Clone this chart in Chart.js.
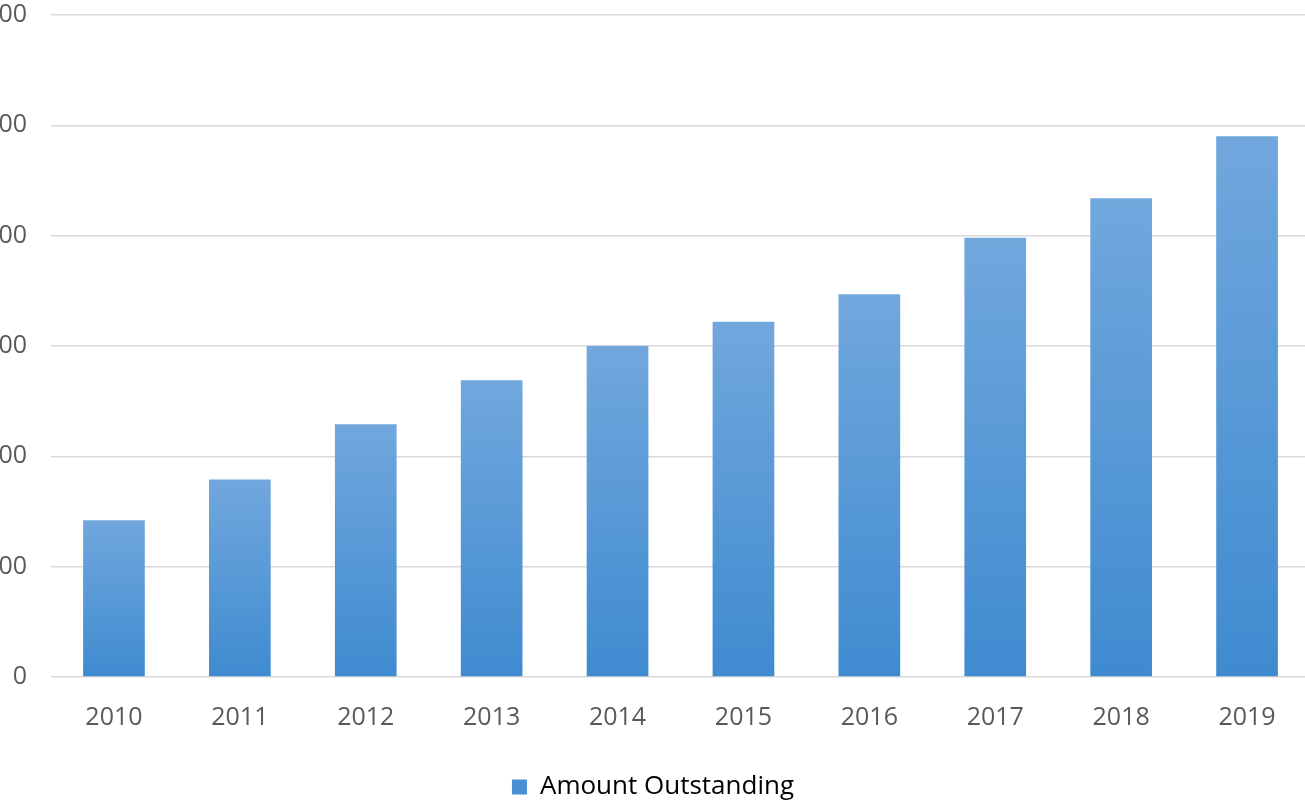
<!DOCTYPE html>
<html>
<head>
<meta charset="utf-8">
<script src="https://cdn.jsdelivr.net/npm/chart.js@4"></script>
<style>
  body { margin: 0; background: #fff; overflow: hidden; width: 1305px; height: 805px; position: relative; }
  #myChart { position: absolute; left: -20px; top: -24px; }
</style>
</head>
<body>
<canvas id="myChart" width="1346" height="829"></canvas>
<script>
const years = ['2010', '2011', '2012', '2013', '2014', '2015', '2016', '2017', '2018', '2019'];
const amountOutstanding = [142, 179, 229, 269, 300, 322, 347, 398, 434, 490];
const yMin = 0;
const yMax = 600;
const yStep = 100;

const textColor = '#595959';
const fontFamily = '"Open Sans", "Liberation Sans", sans-serif';

// each bar gets its own light-to-dark fill, top to bottom
const barFill = (ctx) => {
  const { chart } = ctx;
  if (!chart.chartArea || ctx.parsed === undefined) {
    return '#5a9ad9';
  }
  const yScale = chart.scales.y;
  const top = yScale.getPixelForValue(ctx.parsed.y);
  const base = yScale.getPixelForValue(0);
  const grad = chart.ctx.createLinearGradient(0, top, 0, base);
  grad.addColorStop(0, '#71a7dd');
  grad.addColorStop(1, '#3f8bd0');
  return grad;
};

const chart = new Chart('myChart', {
  type: 'bar',
  data: {
    labels: years,
    datasets: [
      {
        label: 'Amount Outstanding',
        data: amountOutstanding,
        backgroundColor: barFill,
        borderWidth: 0,
        barPercentage: 1,
        categoryPercentage: 0.49,
      },
    ],
  },
  options: {
    responsive: false,
    animation: false,
    layout: { padding: { left: 16, right: 16, top: 0, bottom: -5 } },
    plugins: {
      tooltip: { enabled: false },
      legend: {
        display: true,
        position: 'bottom',
        labels: {
          color: textColor,
          font: { family: fontFamily, size: 26 },
          boxWidth: 15,
          boxHeight: 15,
          padding: 10,
          generateLabels: () => [{
            text: 'Amount Outstanding',
            fillStyle: '#4a90d4',
            strokeStyle: '#4a90d4',
            lineWidth: 0,
            datasetIndex: 0,
          }],
        },
      },
    },
    scales: {
      x: {
        afterFit: (scale) => { scale.height += 13; },
        grid: { display: false },
        border: { display: false },
        ticks: {
          color: textColor,
          font: { family: fontFamily, size: 25 },
          padding: 18,
          maxRotation: 0,
        },
      },
      y: {
        min: yMin,
        max: yMax,
        afterFit: (scale) => { scale.width = 55; },
        grid: { color: '#d9d9d9', lineWidth: 1.5, drawTicks: false },
        border: { display: false },
        ticks: {
          stepSize: yStep,
          color: textColor,
          font: { family: fontFamily, size: 25 },
          padding: 24,
        },
      },
    },
  },
});
</script>
</body>
</html>
